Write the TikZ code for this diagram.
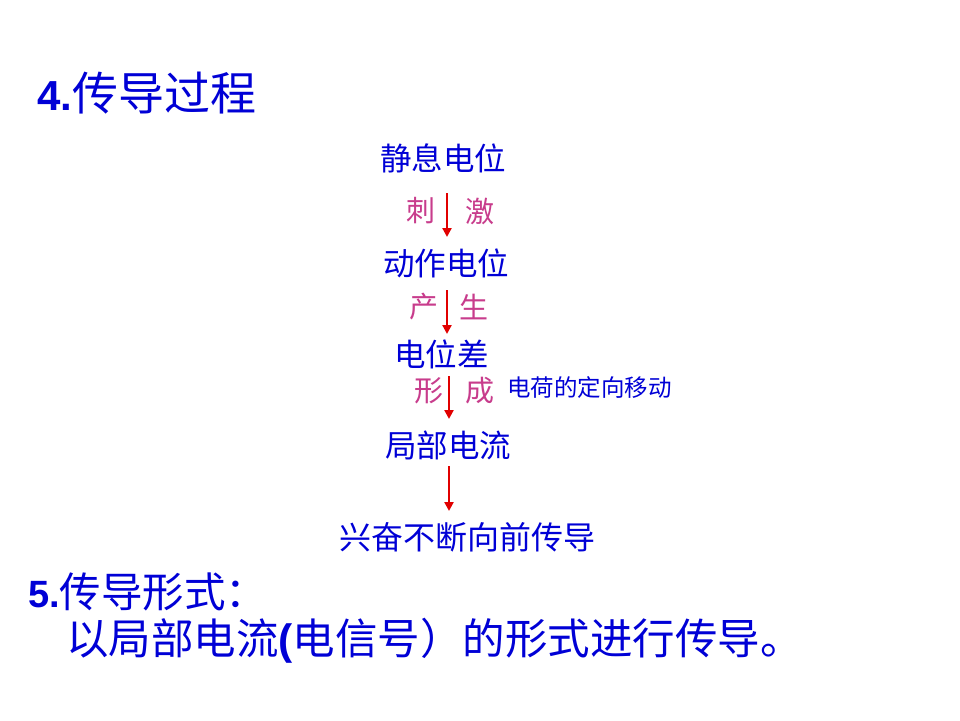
\documentclass[tikz,border=0pt]{standalone}
\usepackage{fontspec}
\setmainfont{Liberation Sans}
\newfontfamily\cjk{Noto Sans CJK SC}
\usetikzlibrary{arrows.meta}
\definecolor{txtblue}{RGB}{0,0,214}
\definecolor{txtpink}{RGB}{200,60,140}
\definecolor{arrred}{RGB}{225,0,0}
\newcommand{\latb}[1]{{\normalfont\bfseries\fontsize{#1}{#1}\selectfont}}
\tikzset{
  lbl/.style={inner sep=0pt, outer sep=0pt, anchor=west, text=txtblue, font=\cjk\fontsize{#1}{#1}\selectfont},
  lbl/.default=31.5,
  verb/.style={inner sep=0pt, outer sep=0pt, anchor=west, text=txtpink, font=\cjk\fontsize{29}{29}\selectfont},
  arr/.style={draw=arrred, line width=2.6pt, -{Triangle[length=9pt,width=9pt]}}
}
\begin{document}
\begin{tikzpicture}[x=1pt,y=-1pt]
\useasboundingbox[fill=white] (0,0) rectangle (960,720);
% headings
\node[lbl=46] (h4) at (37,93) {{\normalfont\bfseries\fontsize{42}{42}\selectfont 4.}传导过程};
% chain
\node[lbl] (s1) at (380,158) {静息电位};
\node[verb] (v1a) at (406,211) {刺};
\node[verb] (v1b) at (465,211) {激};
\node[lbl] (s2) at (383,263) {动作电位};
\node[verb] (v2a) at (409,307) {产};
\node[verb] (v2b) at (459,307) {生};
\node[lbl] (s3) at (394,354) {电位差};
\node[verb] (v3a) at (414,391) {形};
\node[verb] (v3b) at (465,391) {成};
\node[lbl=23.5] (note) at (507,388) {电荷的定向移动};
\node[lbl] (s4) at (385,445) {局部电流};
\node[lbl=32] (s5) at (339,537) {兴奋不断向前传导};
% arrow endpoints
\coordinate (a1s) at (447,193); \coordinate (a1e) at (447,237);
\coordinate (a2s) at (447,290); \coordinate (a2e) at (447,334);
\coordinate (a3s) at (449,376); \coordinate (a3e) at (449,419);
\coordinate (a4s) at (449,466); \coordinate (a4e) at (449,511);
\draw[arr] (a1s) -- (a1e);
\draw[arr] (a2s) -- (a2e);
\draw[arr] (a3s) -- (a3e);
\draw[arr] (a4s) -- (a4e);
% section 5
\node[lbl=41.5] (h5) at (28,592) {{\normalfont\bfseries\fontsize{38}{38}\selectfont 5.}传导形式：};
\node[lbl=42.5] (body) at (66,641) {以局部电流{\normalfont\bfseries (}电信号）的形式进行传导。};
\end{tikzpicture}
\end{document}
